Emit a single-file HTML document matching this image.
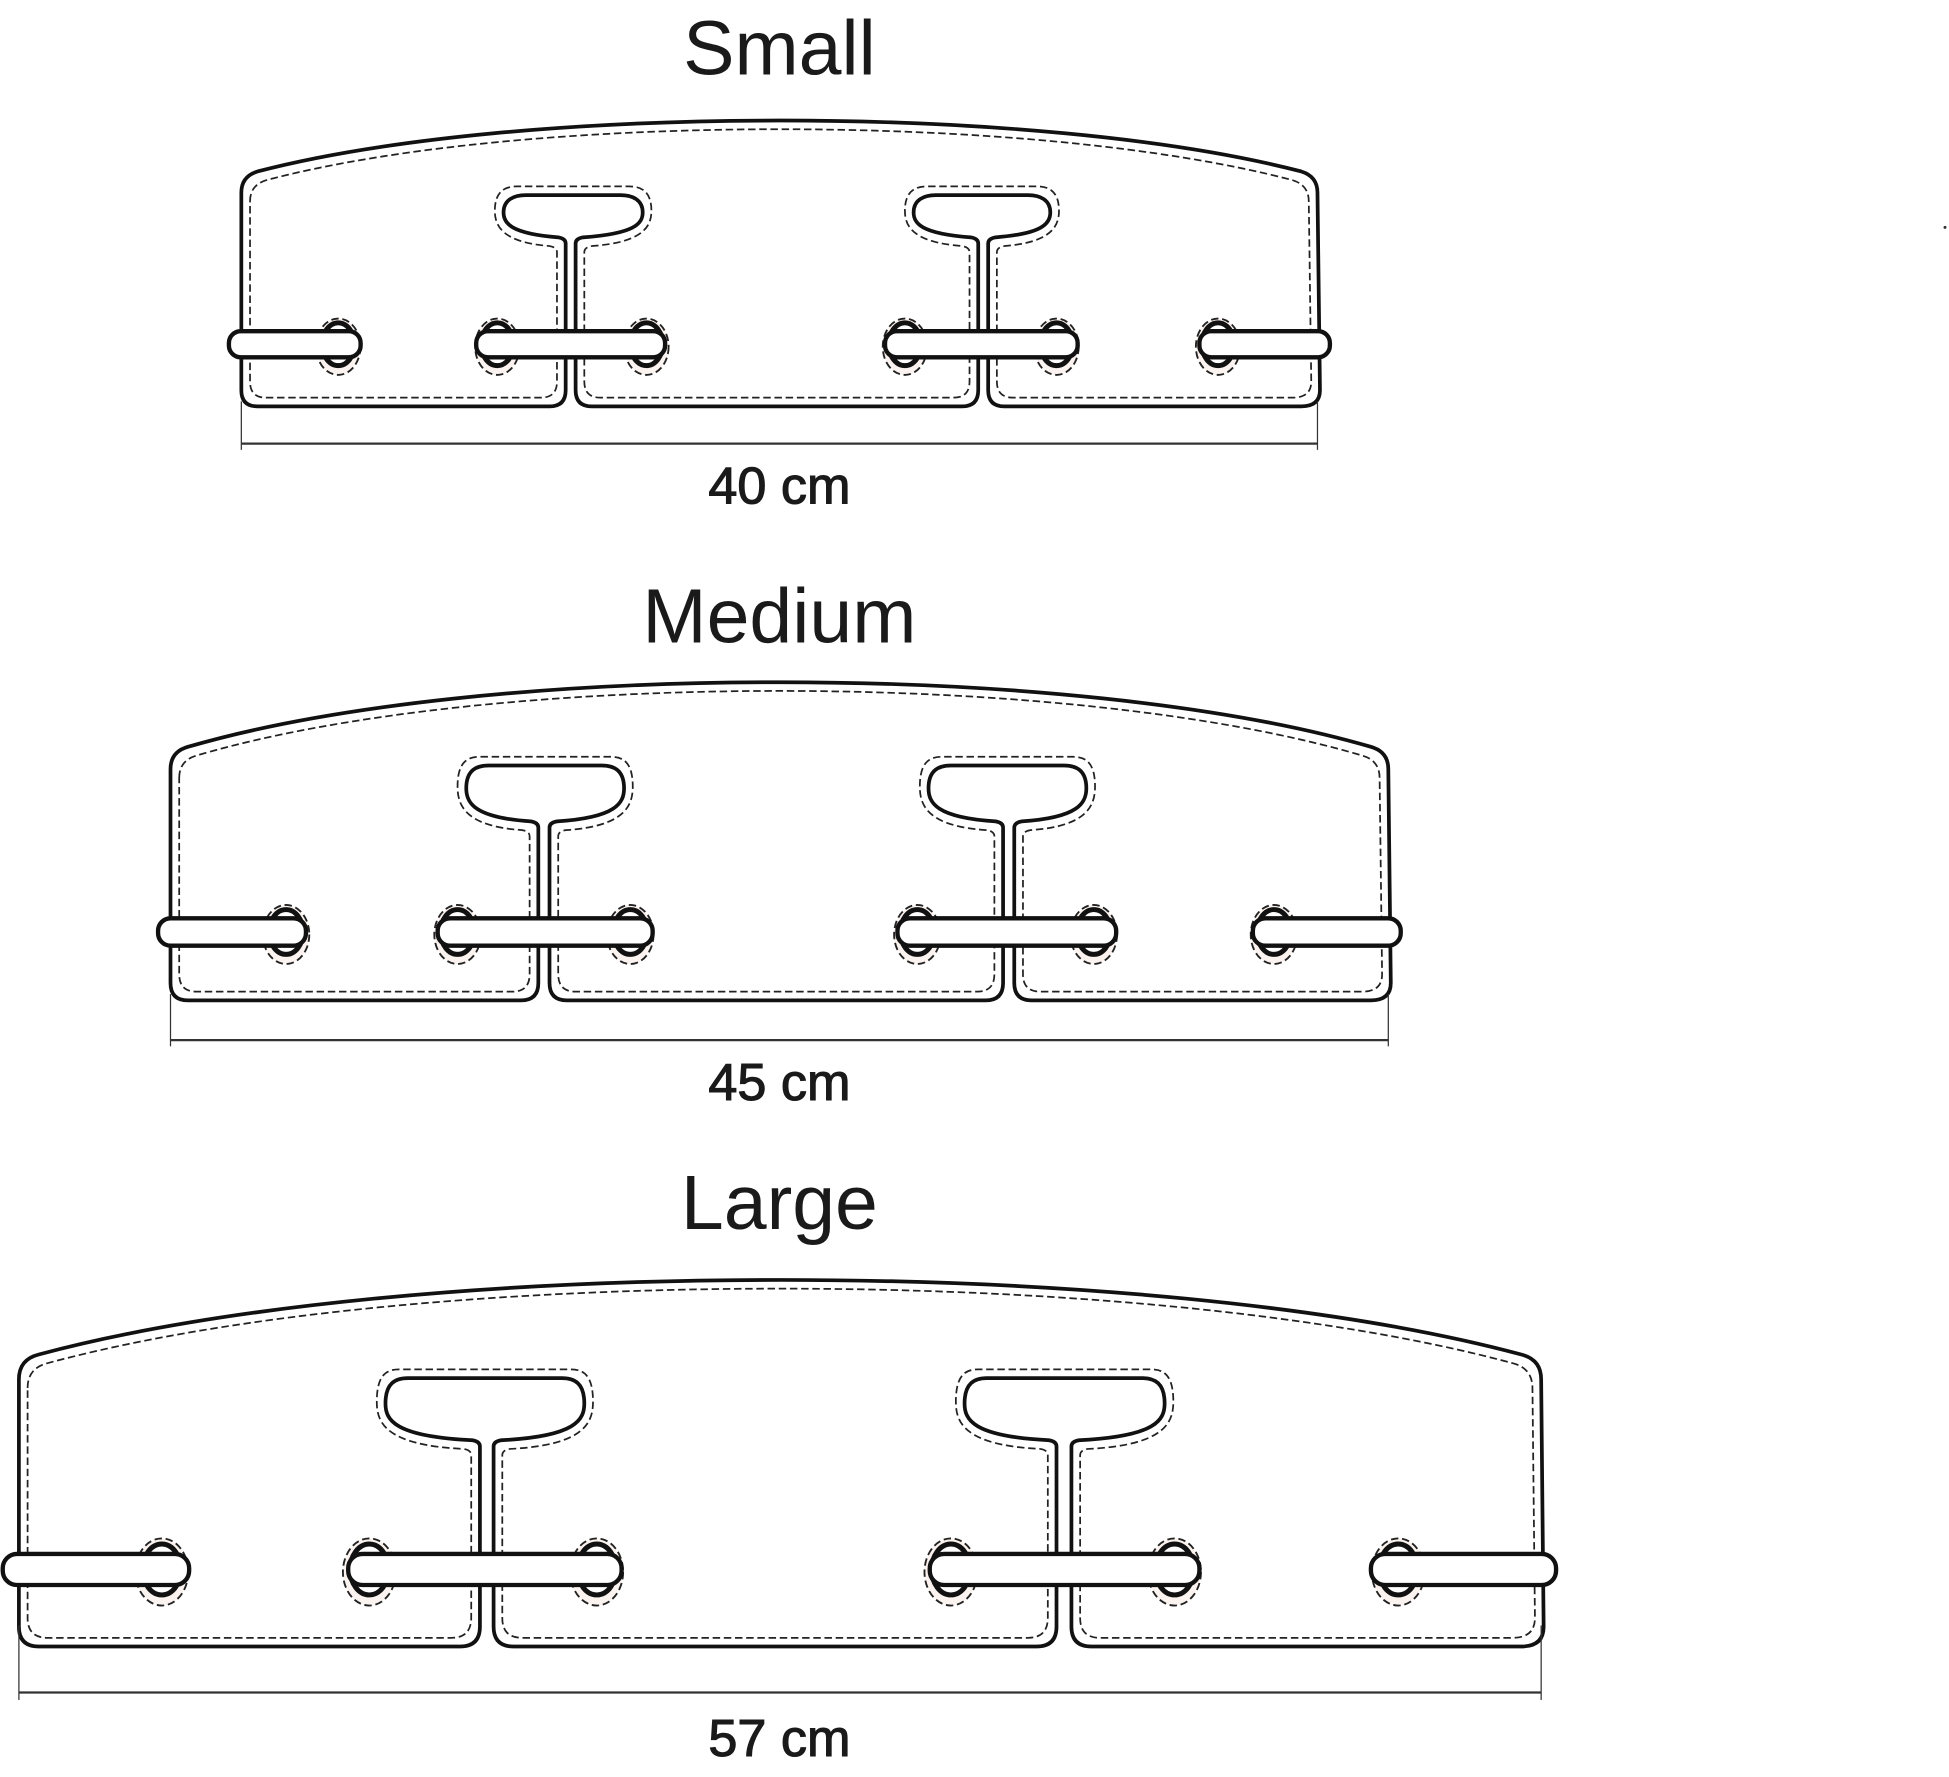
<!DOCTYPE html>
<html><head><meta charset="utf-8">
<style>
html,body{margin:0;padding:0;background:#fff;}
svg{display:block;}
.t{font-family:"Liberation Sans",sans-serif;fill:#1a1a1a;text-anchor:middle;}
.d{stroke:#1a1a1a;stroke-width:0.9;}
</style></head>
<body>
<svg id="s" width="1949" height="1777" viewBox="0 0 1568 1430" xmlns="http://www.w3.org/2000/svg">
<rect width="1568" height="1430" fill="#fff"/>
<text class="t" x="627" y="60" font-size="62">Small</text>
<text class="t" x="627" y="517" font-size="62">Medium</text>
<text class="t" x="627" y="989" font-size="62">Large</text>
<text class="t d" x="627" y="405" font-size="42">40 cm</text>
<text class="t d" x="627" y="885" font-size="42">45 cm</text>
<text class="t d" x="627" y="1413" font-size="42">57 cm</text>
<circle cx="1565" cy="183" r="1.2" fill="#333"/>
<g id="g"></g>
</svg>
<script>
var P=[
 {x0:194,x1:1060,yT:142,yP:97,yB:327,r:13,sl:[[455,463],[787,795]],hd:[[405,517],[735,845]],hT:157,hB:192,cy:277,
  gr:[272,400,520,728,850,980],cd:[[184,290],[383,535],[712,867],[965,1070]],dy:357,dt:[323,362],cw:21},
 {x0:137,x1:1117,yT:605,yP:549,yB:805,r:14,sl:[[433,442],[807,816]],hd:[[375,502],[747,874]],hT:616,hB:662,cy:750,
  gr:[230,368,507,738,880,1025],cd:[[127,246],[352,525],[722,898],[1008,1127]],dy:837,dt:[800,842],cw:22},
 {x0:15,x1:1240,yT:1094,yP:1030,yB:1325,r:16,sl:[[386,397],[850,862]],hd:[[310,470],[776,937]],hT:1109,hB:1160,cy:1263,
  gr:[130,297,480,765,945,1125],cd:[[2,152],[280,500],[748,965],[1103,1252]],dy:1362,dt:[1308,1368],cw:25}
];
function pathFor(p,d){
 var x0=p.x0+d,x1=p.x1-d,yT=p.yT+d,yP=p.yP+d,yB=p.yB-d,r=p.r;
 var ye=yT-4, c=(yP-0.25*ye)/0.75, a=x0+r, b=x1-r, w=b-a;
 var s="M"+x0+","+(yT+r)+" Q"+x0+","+yT+" "+a+","+ye;
 s+=" C"+(a+w*0.25)+","+c+" "+(a+w*0.75)+","+c+" "+b+","+ye;
 s+=" Q"+x1+","+yT+" "+x1+","+(yT+r)+" L"+(x1+2)+","+(yB-r)+" Q"+(x1+2)+","+yB+" "+(x1-r)+","+yB;
 for(var i=1;i>=0;i--){
  var sL=p.sl[i][0]-d,sR=p.sl[i][1]+d,hL=p.hd[i][0]-d,hR=p.hd[i][1]+d,hT=p.hT-d,hB=p.hB+d;
  var hh=hB-hT;
  s+=" L"+(sR+r)+","+yB+" Q"+sR+","+yB+" "+sR+","+(yB-r)+" L"+sR+","+(hB+4);
  s+=" Q"+sR+","+hB+" "+(sR+6)+","+(hB-1);
  s+=" C"+(hR-6)+","+(hB-4)+" "+hR+","+(hT+hh*0.65)+" "+hR+","+(hT+hh*0.4);
  s+=" C"+hR+","+(hT+4)+" "+(hR-8)+","+hT+" "+(hR-18)+","+hT+" L"+(hL+18)+","+hT;
  s+=" C"+(hL+8)+","+hT+" "+hL+","+(hT+4)+" "+hL+","+(hT+hh*0.4);
  s+=" C"+hL+","+(hT+hh*0.65)+" "+(hL+6)+","+(hB-4)+" "+(sL-6)+","+(hB-1);
  s+=" Q"+sL+","+hB+" "+sL+","+(hB+4)+" L"+sL+","+(yB-r)+" Q"+sL+","+yB+" "+(sL-r)+","+yB;
 }
 s+=" L"+(x0+r)+","+yB+" Q"+x0+","+yB+" "+x0+","+(yB-r)+" Z";
 return s;
}
var h="";
P.forEach(function(p){
 h+='<path d="'+pathFor(p,0)+'" fill="#fff" stroke="#111" stroke-width="3"/>';
 h+='<path d="'+pathFor(p,7)+'" fill="none" stroke="#222" stroke-width="1.4" stroke-dasharray="6,3"/>';
 p.gr.forEach(function(x){
  h+='<ellipse cx="'+x+'" cy="'+(p.cy+2)+'" rx="'+(p.cw*0.85)+'" ry="'+(p.cw*1.08)+'" fill="#fbf3ef" stroke="#222" stroke-width="1.5" stroke-dasharray="6,3"/>';
  h+='<ellipse cx="'+x+'" cy="'+p.cy+'" rx="'+(p.cw*0.62)+'" ry="'+(p.cw*0.82)+'" fill="#fff" stroke="#111" stroke-width="4"/>';
 });
 p.cd.forEach(function(c){
  var w=p.cw;
  h+='<rect x="'+c[0]+'" y="'+(p.cy-w/2)+'" width="'+(c[1]-c[0])+'" height="'+w+'" rx="'+(w/2-1)+'" fill="#fff" stroke="#111" stroke-width="3.5"/>';
 });
 h+='<line x1="'+p.x0+'" y1="'+p.dy+'" x2="'+p.x1+'" y2="'+p.dy+'" stroke="#333" stroke-width="1.8"/>';
 h+='<line x1="'+p.x0+'" y1="'+p.dt[0]+'" x2="'+p.x0+'" y2="'+p.dt[1]+'" stroke="#333" stroke-width="1"/>';
 h+='<line x1="'+p.x1+'" y1="'+p.dt[0]+'" x2="'+p.x1+'" y2="'+p.dt[1]+'" stroke="#333" stroke-width="1"/>';
});
document.getElementById("g").innerHTML=h;
</script>
</body></html>
